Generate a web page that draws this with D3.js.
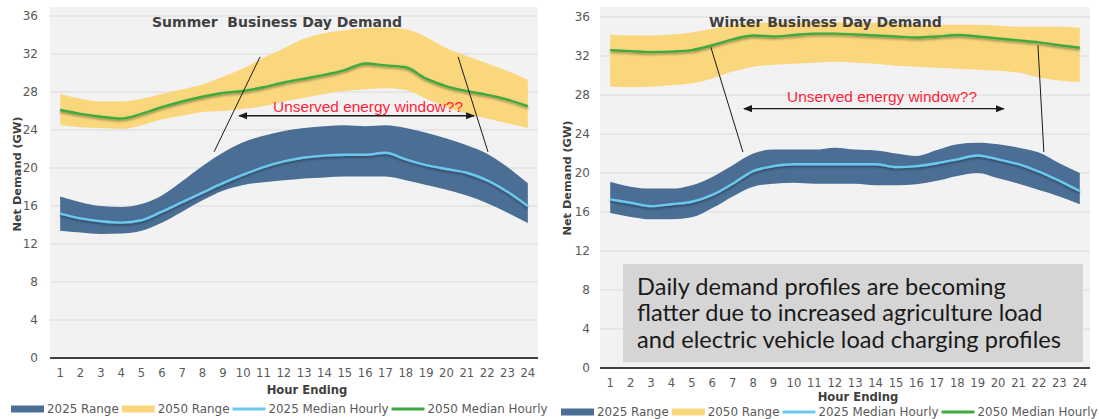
<!DOCTYPE html>
<html><head><meta charset="utf-8">
<script src="https://cdn.jsdelivr.net/npm/d3@7"></script>
<style>
html,body{margin:0;padding:0;background:#fff;}
svg{display:block;}
</style></head>
<body>
<svg id="chart" width="1099" height="419"></svg>
<script>
// ---------- DATA ----------
const hours = d3.range(1, 25);
const yTicks = [0, 4, 8, 12, 16, 20, 24, 28, 32, 36];
const legendLabels = ["2025 Range", "2050 Range", "2025 Median Hourly", "2050 Median Hourly"];

// Summer business day
const summer2025Low  = [13.4,13.2,13.05,13.1,13.4,14.25,15.4,16.6,17.6,18.2,18.5,18.7,18.9,19.0,19.1,19.1,19.1,18.7,18.2,17.7,17.1,16.3,15.3,14.2];
const summer2025High = [17.0,16.4,16.0,15.9,16.2,17.1,18.6,20.2,21.6,22.7,23.4,23.9,24.2,24.4,24.5,24.4,24.5,24.2,23.7,23.1,22.4,21.5,20.1,18.4];
const summer2025Med  = [15.2,14.7,14.4,14.25,14.5,15.4,16.4,17.4,18.4,19.3,20.1,20.7,21.1,21.3,21.4,21.4,21.6,20.9,20.3,19.9,19.5,18.7,17.5,16.0];
const summer2050Low  = [24.5,24.3,24.2,24.1,24.5,25.1,25.5,25.9,26.0,26.2,26.5,27.0,27.4,27.8,28.1,28.3,28.4,28.2,27.3,26.4,25.7,25.2,24.7,24.2];
const summer2050High = [27.8,27.3,27.0,27.0,27.3,27.8,28.3,28.8,29.6,30.5,31.6,32.6,33.6,34.2,34.5,34.7,34.8,34.6,33.8,32.6,31.8,31.0,30.2,29.3];
const summer2050Med  = [26.1,25.7,25.4,25.2,25.7,26.4,27.0,27.5,27.9,28.1,28.5,29.0,29.4,29.8,30.3,31.0,30.8,30.6,29.4,28.6,28.1,27.7,27.2,26.5];

// Winter business day
const winter2025Low  = [15.9,15.5,15.25,15.25,15.45,16.4,17.6,18.6,18.9,19.0,18.9,18.9,18.9,18.75,18.75,18.85,19.2,19.7,20.0,19.45,18.9,18.25,17.6,16.8];
const winter2025High = [19.1,18.6,18.4,18.4,18.75,19.6,20.8,22.0,22.4,22.4,22.4,22.6,22.4,22.3,22.0,21.75,22.35,22.95,23.1,22.95,22.6,22.1,21.0,20.0];
const winter2025Med  = [17.3,16.95,16.6,16.8,17.05,17.75,18.9,20.2,20.7,20.9,20.9,20.9,20.9,20.9,20.6,20.7,21.0,21.4,21.8,21.4,20.9,20.15,19.2,18.15];
const winter2050Low  = [28.85,28.8,28.85,29.0,29.2,29.7,30.4,30.9,31.1,31.2,31.3,31.4,31.3,31.2,31.0,30.9,30.8,30.7,30.6,30.5,30.3,29.8,29.5,29.3];
const winter2050High = [34.2,34.1,34.1,34.2,34.4,34.8,35.2,35.4,35.4,35.4,35.5,35.5,35.4,35.4,35.3,35.2,35.2,35.2,35.2,35.1,35.0,35.0,35.0,34.9];
const winter2050Med  = [32.6,32.5,32.4,32.45,32.6,33.1,33.7,34.1,34.0,34.15,34.3,34.3,34.2,34.1,34.0,33.9,34.0,34.15,34.0,33.8,33.6,33.4,33.1,32.85];

const titles = ["Summer  Business Day Demand", "Winter Business Day Demand"];
const annotationText = "Unserved energy window??";
const noteLines = ["Daily demand profiles are becoming", "flatter due to increased agriculture load", "and electric vehicle load charging profiles"];

// ---------- STYLE ----------
const C = {
  bg: "#f2f2f2", grid: "#d9d9d9", axis: "#404040", tick: "#595959",
  band25: "#4a6e94", band50: "#fad77c", med25: "#6cc8ef", med50: "#3eaa3e",
  red: "#ff1f3a", note: "#d5d5d5"
};

const svg = d3.select("#chart");
const defs = svg.append("defs");
const f = defs.append("filter").attr("id", "shadow").attr("x", "-5%").attr("y", "-20%").attr("width", "110%").attr("height", "160%");
f.append("feDropShadow").attr("dx", 0).attr("dy", 1.5).attr("stdDeviation", 1.1).attr("flood-color", "#000").attr("flood-opacity", 0.4);
const mk = defs.append("marker").attr("id", "ah").attr("viewBox", "0 0 10 10").attr("refX", 9).attr("refY", 5)
  .attr("markerWidth", 9).attr("markerHeight", 9).attr("markerUnits", "userSpaceOnUse").attr("orient", "auto-start-reverse");
mk.append("path").attr("d", "M0,1 L10,5 L0,9 Z").attr("fill", "#1a1a1a");

const panels = [
  { title: titles[0], x0: 50, x1: 538, top: 7, y0: 358, y36: 16, yLabX: 38, yTitleX: 17, yTitleY: 174,
    tickY: 377, hourY: 394, legendY: 409, legendX: 11, titleX: 152,
    lo25: summer2025Low, hi25: summer2025High, med25: summer2025Med,
    lo50: summer2050Low, hi50: summer2050High, med50: summer2050Med,
    lines: [[10.83, 31.7, 8.57, 21.7], [20.57, 31.7, 22.04, 21.7]],
    arrow: [9.8, 21.36, 25.5], text: [11.47, 25.85], note: false },
  { title: titles[1], x0: 600, x1: 1090, top: 7, y0: 368, y36: 17, yLabX: 590, yTitleX: 567, yTitleY: 178,
    tickY: 387, hourY: 401, legendY: 412, legendX: 561, titleX: 709,
    lo25: winter2025Low, hi25: winter2025High, med25: winter2025Med,
    lo50: winter2050Low, hi50: winter2050High, med50: winter2050Med,
    lines: [[5.93, 32.9, 7.5, 22.15], [21.95, 33.1, 22.24, 22.15]],
    arrow: [7.55, 20.28, 26.6], text: [9.66, 27.25], note: true }
];

panels.forEach(p => {
  const g = svg.append("g");
  const x = d3.scalePoint().domain(hours).range([p.x0, p.x1]).padding(0.5);
  const y = d3.scaleLinear().domain([0, 36]).range([p.y0, p.y36]);
  const hx = h => x(1) + (h - 1) * x.step();

  g.append("rect").attr("x", p.x0).attr("y", p.top).attr("width", p.x1 - p.x0).attr("height", p.y0 - p.top).attr("fill", C.bg);

  // gridlines
  g.selectAll(".grid").data(yTicks.filter(d => d > 0)).join("line")
    .attr("x1", p.x0).attr("x2", p.x1).attr("y1", d => y(d)).attr("y2", d => y(d))
    .attr("stroke", C.grid).attr("stroke-width", 1.2);

  // y tick labels
  g.selectAll(".yl").data(yTicks).join("text")
    .attr("x", p.yLabX).attr("y", d => y(d)).attr("dy", "0.35em").attr("text-anchor", "end")
    .attr("font-family", "DejaVu Sans, Verdana, sans-serif").attr("font-size", 12).attr("fill", C.tick)
    .text(d => d);

  // y title
  g.append("text").attr("transform", `translate(${p.yTitleX},${p.yTitleY}) rotate(-90)`)
    .attr("text-anchor", "middle").attr("dy", "0.35em")
    .attr("font-family", "DejaVu Sans, Verdana, sans-serif").attr("font-weight", "bold").attr("font-size", 11.3)
    .attr("fill", "#404040").text("Net Demand (GW)");

  const area = (lo, hi) => d3.area().x((d, i) => x(hours[i])).y0((d, i) => y(lo[i])).y1((d, i) => y(hi[i])).curve(d3.curveMonotoneX)(lo);
  const line = (vals) => d3.line().x((d, i) => x(hours[i])).y(d => y(d)).curve(d3.curveMonotoneX)(vals);

  g.append("path").attr("d", area(p.lo50, p.hi50)).attr("fill", C.band50);
  g.append("path").attr("d", area(p.lo25, p.hi25)).attr("fill", C.band25);
  g.append("path").attr("d", line(p.med50)).attr("fill", "none").attr("stroke", C.med50).attr("stroke-width", 2.4).attr("filter", "url(#shadow)");
  g.append("path").attr("d", line(p.med25)).attr("fill", "none").attr("stroke", C.med25).attr("stroke-width", 2.4).attr("filter", "url(#shadow)");

  // axis line
  g.append("line").attr("x1", p.x0).attr("x2", p.x1).attr("y1", p.y0).attr("y2", p.y0).attr("stroke", C.axis).attr("stroke-width", 2.2);

  // x tick labels
  g.selectAll(".xl").data(hours).join("text")
    .attr("x", d => x(d)).attr("y", p.tickY).attr("text-anchor", "middle")
    .attr("font-family", "DejaVu Sans, Verdana, sans-serif").attr("font-size", 11.6).attr("fill", C.tick).text(d => d);

  g.append("text").attr("x", (p.x0 + p.x1) / 2 + 13).attr("y", p.hourY).attr("text-anchor", "middle")
    .attr("font-family", "DejaVu Sans, Verdana, sans-serif").attr("font-weight", "bold").attr("font-size", 11.6)
    .attr("fill", "#404040").text("Hour Ending");

  // title
  g.append("text").attr("x", p.titleX).attr("y", 27).style("white-space", "pre")
    .attr("font-family", "DejaVu Sans, Verdana, sans-serif").attr("font-weight", "bold").attr("font-size", 14)
    .attr("fill", "#404040").text(p.title);

  // annotation lines
  p.lines.forEach(l => {
    g.append("line").attr("x1", hx(l[0])).attr("y1", y(l[1]))
      .attr("x2", hx(l[2])).attr("y2", y(l[3]))
      .attr("stroke", "#1a1a1a").attr("stroke-width", 1);
  });
  g.append("line").attr("x1", hx(p.arrow[0])).attr("x2", hx(p.arrow[1])).attr("y1", y(p.arrow[2])).attr("y2", y(p.arrow[2]))
    .attr("stroke", "#1a1a1a").attr("stroke-width", 1.4)
    .attr("marker-start", "url(#ah)").attr("marker-end", "url(#ah)");
  g.append("text").attr("x", hx(p.text[0])).attr("y", y(p.text[1]))
    .attr("font-family", "Liberation Sans, Arial, sans-serif").attr("font-size", 15.4).attr("fill", C.red)
    .text(annotationText);

  if (p.note) {
    const bx = hx(1.63), by = y(10.67);
    g.append("rect").attr("x", bx).attr("y", by).attr("width", hx(24.15) - bx).attr("height", y(0.6) - by).attr("fill", C.note);
    g.selectAll(".note").data(noteLines).join("text")
      .attr("x", bx + 14).attr("y", (d, i) => by + 31 + i * 26.5)
      .attr("font-family", "Lato, Carlito, sans-serif").attr("font-size", 23.6).attr("fill", "#1a1a1a")
      .text(d => d);
  }

  // legend
  let lx = p.legendX;
  const ly = p.legendY;
  legendLabels.forEach((lab, i) => {
    if (i < 2) {
      g.append("rect").attr("x", lx).attr("y", ly - 3.5).attr("width", 33).attr("height", 7).attr("fill", i === 0 ? C.band25 : C.band50);
    } else {
      g.append("line").attr("x1", lx).attr("x2", lx + 33).attr("y1", ly).attr("y2", ly)
        .attr("stroke", i === 2 ? C.med25 : C.med50).attr("stroke-width", 3);
    }
    const t = g.append("text").attr("x", lx + 36).attr("y", ly).attr("dy", "0.35em")
      .attr("font-family", "DejaVu Sans, Verdana, sans-serif").attr("font-size", 11.9).attr("fill", C.tick).text(lab);
    lx = lx + 36 + t.node().getComputedTextLength() + 3;
  });
});
</script>
</body></html>
